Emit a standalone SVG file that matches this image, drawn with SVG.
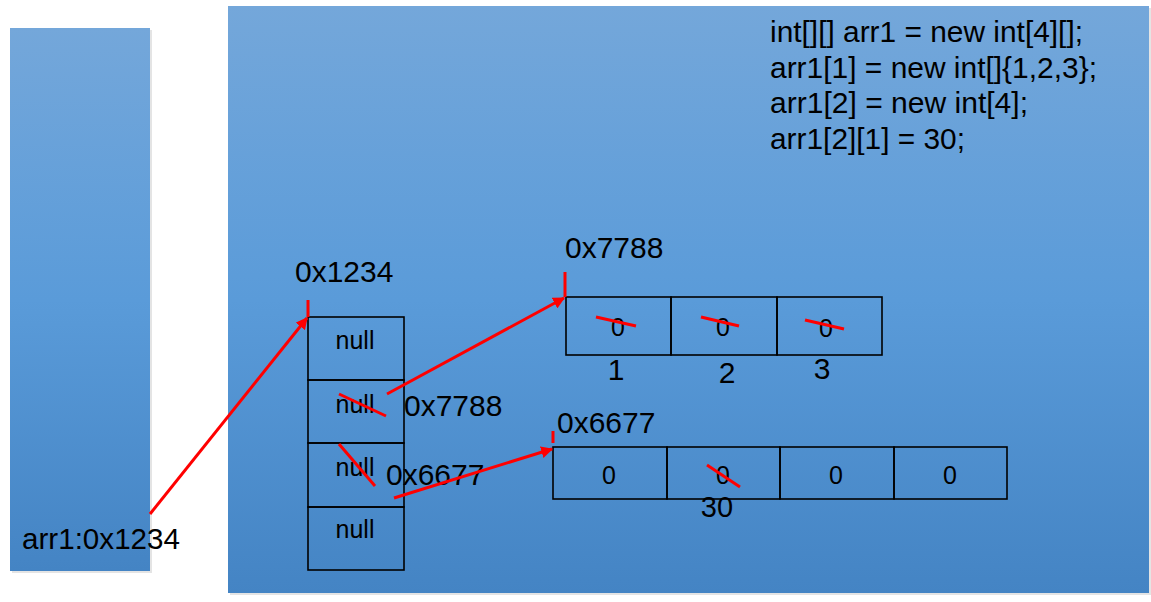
<svg xmlns="http://www.w3.org/2000/svg" width="1151" height="602" viewBox="0 0 1151 602">
  <defs>
    <linearGradient id="bg" x1="0" y1="0" x2="0" y2="1">
      <stop offset="0" stop-color="#74a7da"/>
      <stop offset="0.5" stop-color="#5a9bd9"/>
      <stop offset="1" stop-color="#4484c4"/>
    </linearGradient>
    <marker id="arrow" viewBox="0 0 10 10" refX="9" refY="5" markerWidth="12" markerHeight="12" markerUnits="userSpaceOnUse" orient="auto">
      <path d="M0,0 L10,5 L0,10 z" fill="#ff0000"/>
    </marker>
    <style>
      .panel { fill: url(#bg); }
      .shadow { fill: #c4c4c4; opacity: 0.45; }
      .cell { fill: none; stroke: #000; stroke-width: 1.6; }
      .t { font-family: "Liberation Sans", Arial, sans-serif; fill: #000; }
      .big { font-size: 29px; }
      .mid { font-size: 30px; }
      .small { font-size: 25px; }
      .red { stroke: #ff0000; stroke-width: 3; fill: none; }
    </style>
  </defs>

  <rect x="0" y="0" width="1151" height="602" fill="#ffffff"/>

  <g id="stack">
    <rect class="shadow" x="12" y="30" width="140" height="543"/>
    <rect class="panel" x="10" y="28" width="140" height="543"/>
  </g>

  <g id="heap">
    <rect class="shadow" x="230" y="8" width="921" height="587"/>
    <rect class="panel" x="228" y="6" width="921" height="587"/>
  </g>

  <g id="code">
    <text class="t big" x="770" y="42" textLength="313" lengthAdjust="spacingAndGlyphs">int[][] arr1 = new int[4][];</text>
    <text class="t big" x="770" y="78" textLength="327" lengthAdjust="spacingAndGlyphs">arr1[1] = new int[]{1,2,3};</text>
    <text class="t big" x="770" y="113" textLength="258" lengthAdjust="spacingAndGlyphs">arr1[2] = new int[4];</text>
    <text class="t big" x="770" y="149" textLength="195" lengthAdjust="spacingAndGlyphs">arr1[2][1] = 30;</text>
  </g>

  <g id="arr1-var">
    <text class="t big" x="22" y="549" textLength="158" lengthAdjust="spacingAndGlyphs">arr1:0x1234</text>
  </g>

  <g id="outer-array">
    <text class="t mid" x="295" y="282">0x1234</text>
    <rect class="cell" x="308" y="317" width="96" height="63"/>
    <rect class="cell" x="308" y="380" width="96" height="63"/>
    <rect class="cell" x="308" y="443" width="96" height="64"/>
    <rect class="cell" x="308" y="507" width="96" height="63"/>
    <text class="t small" x="355" y="349" text-anchor="middle">null</text>
    <text class="t small" x="355" y="413" text-anchor="middle">null</text>
    <text class="t small" x="355" y="476" text-anchor="middle">null</text>
    <text class="t small" x="355" y="538" text-anchor="middle">null</text>
    <text class="t mid" x="404" y="416">0x7788</text>
    <text class="t mid" x="386" y="485">0x6677</text>
  </g>

  <g id="array-7788">
    <text class="t mid" x="565" y="258">0x7788</text>
    <rect class="cell" x="566" y="297" width="105" height="58"/>
    <rect class="cell" x="671" y="297" width="106" height="58"/>
    <rect class="cell" x="777" y="297" width="105" height="58"/>
    <text class="t small" x="618" y="336" text-anchor="middle">0</text>
    <text class="t small" x="723" y="336" text-anchor="middle">0</text>
    <text class="t small" x="826" y="337" text-anchor="middle">0</text>
    <text class="t mid" x="616" y="380" text-anchor="middle">1</text>
    <text class="t mid" x="727" y="383" text-anchor="middle">2</text>
    <text class="t mid" x="822" y="379" text-anchor="middle">3</text>
  </g>

  <g id="array-6677">
    <text class="t mid" x="557" y="433">0x6677</text>
    <rect class="cell" x="553" y="447" width="114" height="52"/>
    <rect class="cell" x="667" y="447" width="113" height="52"/>
    <rect class="cell" x="780" y="447" width="114" height="52"/>
    <rect class="cell" x="894" y="447" width="113" height="52"/>
    <text class="t small" x="609" y="484" text-anchor="middle">0</text>
    <text class="t small" x="723" y="484" text-anchor="middle">0</text>
    <text class="t small" x="836" y="484" text-anchor="middle">0</text>
    <text class="t small" x="950" y="484" text-anchor="middle">0</text>
    <text class="t big" x="717" y="517" text-anchor="middle">30</text>
  </g>

  <g id="connectors">
    <line class="red" x1="150" y1="514" x2="307" y2="318" marker-end="url(#arrow)"/>
    <line class="red" x1="387" y1="394" x2="564" y2="298" marker-end="url(#arrow)"/>
    <line class="red" x1="394" y1="498" x2="552" y2="449" marker-end="url(#arrow)"/>
  </g>

  <g id="marks">
    <line class="red" x1="308" y1="300" x2="308" y2="317"/>
    <line class="red" x1="565" y1="272" x2="565" y2="297"/>
    <line class="red" x1="553" y1="431" x2="553" y2="443"/>
    <line class="red" x1="339" y1="394" x2="386" y2="416"/>
    <line class="red" x1="339" y1="444" x2="375" y2="486"/>
    <line class="red" x1="596" y1="317" x2="636" y2="326"/>
    <line class="red" x1="701" y1="317" x2="739" y2="326"/>
    <line class="red" x1="805" y1="320" x2="844" y2="329"/>
    <line class="red" x1="707" y1="465" x2="740" y2="487"/>
  </g>
</svg>
